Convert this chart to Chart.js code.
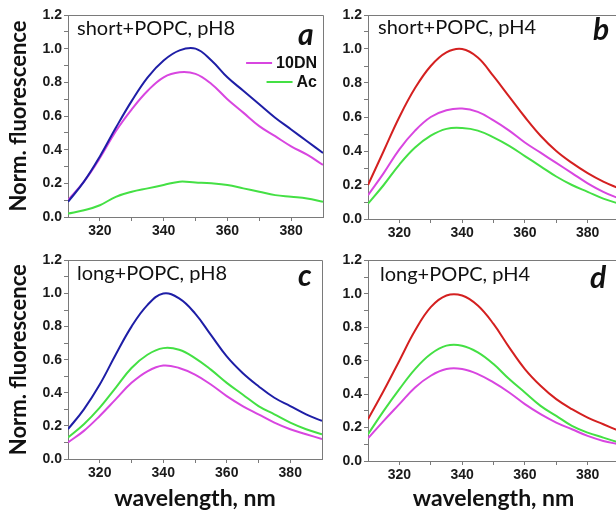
<!DOCTYPE html>
<html>
<head>
<meta charset="utf-8">
<script src="https://cdn.jsdelivr.net/npm/chart.js@4/dist/chart.umd.min.js"></script>
<style>
  html, body { margin: 0; padding: 0; background: #fff; width: 616px; height: 514px; overflow: hidden; }
  canvas { position: absolute; }
</style>
</head>
<body>
<canvas id="panelA" width="335" height="250" style="left:0;top:0"></canvas>
<canvas id="panelB" width="330" height="250" style="left:300px;top:0"></canvas>
<canvas id="panelC" width="335" height="264" style="left:0;top:250px"></canvas>
<canvas id="panelD" width="330" height="264" style="left:300px;top:250px"></canvas>
<script>
// Emission wavelength grid (nm)
const wavelengths = [310, 315, 320, 325, 330, 335, 340, 345, 350, 355, 360, 365, 370, 375, 380, 385, 390];

// a: short peptide + POPC, pH 8
const shortPH8 = [0.09, 0.21, 0.36, 0.53, 0.69, 0.83, 0.93, 0.99, 1.00, 0.93, 0.83, 0.75, 0.67, 0.59, 0.52, 0.45, 0.38];
const short10DN_PH8 = [0.10, 0.21, 0.35, 0.51, 0.64, 0.75, 0.83, 0.86, 0.85, 0.79, 0.70, 0.62, 0.54, 0.48, 0.42, 0.37, 0.31];
const shortAc_PH8 = [0.02, 0.04, 0.07, 0.12, 0.15, 0.17, 0.19, 0.21, 0.205, 0.20, 0.19, 0.17, 0.15, 0.13, 0.12, 0.11, 0.09];

// b: short peptide + POPC, pH 4
const shortPH4 = [0.20, 0.40, 0.60, 0.77, 0.90, 0.98, 1.00, 0.95, 0.84, 0.72, 0.60, 0.49, 0.40, 0.33, 0.27, 0.22, 0.18];
const short10DN_PH4 = [0.14, 0.27, 0.41, 0.52, 0.60, 0.64, 0.65, 0.63, 0.58, 0.52, 0.45, 0.39, 0.33, 0.27, 0.21, 0.16, 0.12];
const shortAc_PH4 = [0.09, 0.20, 0.32, 0.42, 0.49, 0.53, 0.535, 0.52, 0.48, 0.43, 0.37, 0.31, 0.25, 0.20, 0.16, 0.12, 0.09];

// c: long peptide + POPC, pH 8
const longPH8 = [0.18, 0.30, 0.45, 0.63, 0.80, 0.93, 1.00, 0.97, 0.88, 0.75, 0.62, 0.52, 0.44, 0.37, 0.32, 0.27, 0.23];
const long10DN_PH8 = [0.10, 0.17, 0.26, 0.36, 0.46, 0.53, 0.565, 0.55, 0.51, 0.45, 0.38, 0.32, 0.27, 0.22, 0.18, 0.15, 0.12];
const longAc_PH8 = [0.13, 0.21, 0.31, 0.43, 0.55, 0.63, 0.67, 0.66, 0.61, 0.54, 0.46, 0.39, 0.32, 0.27, 0.22, 0.18, 0.15];

// d: long peptide + POPC, pH 4
const longPH4 = [0.25, 0.42, 0.60, 0.78, 0.92, 0.99, 0.99, 0.93, 0.82, 0.68, 0.55, 0.45, 0.37, 0.31, 0.26, 0.22, 0.18];
const long10DN_PH4 = [0.135, 0.24, 0.34, 0.44, 0.51, 0.55, 0.55, 0.52, 0.47, 0.41, 0.34, 0.28, 0.23, 0.19, 0.15, 0.12, 0.10];
const longAc_PH4 = [0.16, 0.30, 0.43, 0.55, 0.64, 0.69, 0.69, 0.65, 0.58, 0.49, 0.41, 0.33, 0.27, 0.21, 0.17, 0.14, 0.11];

// Axis ticks (minor ticks carry an empty label)
const xTickValues = [320, 330, 340, 350, 360, 370, 380];
const yTickValues = [0, 0.1, 0.2, 0.3, 0.4, 0.5, 0.6, 0.7, 0.8, 0.9, 1.0, 1.1, 1.2];

const COLORS = { blue: '#1e1ea6', red: '#d42020', magenta: '#d846e0', green: '#44e044' };
const AXIS_GREY = '#7a7a7a';
const TICK_FONT = { family: "'Liberation Sans', Arial, sans-serif", weight: 'bold', size: 14 };
const Y_TITLE_FONT = { family: "Lato, 'Open Sans', sans-serif", weight: 'bold', size: 22 };
const X_TITLE_FONT = { family: "Lato, 'Open Sans', sans-serif", weight: 'bold', size: 23 };

// Frame, panel heading, panel letter and in-plot legend
const panelDecor = {
  id: 'panelDecor',
  afterDraw(chart, args, o) {
    const { ctx, chartArea: a } = chart;
    ctx.save();
    ctx.strokeStyle = AXIS_GREY;
    ctx.lineWidth = 1;
    ctx.beginPath();
    ctx.moveTo(Math.round(a.left) + 0.5, Math.round(a.top) + 0.5);
    ctx.lineTo(Math.round(a.right) + 0.5, Math.round(a.top) + 0.5);
    ctx.lineTo(Math.round(a.right) + 0.5, Math.round(a.bottom) + 0.5);
    ctx.stroke();

    ctx.fillStyle = '#111';
    ctx.textBaseline = 'alphabetic';
    ctx.textAlign = 'left';
    ctx.font = "20px Lato, 'Open Sans', sans-serif";
    ctx.fillText(o.heading, a.left + o.headingDx, a.top + o.headingDy);

    ctx.font = "italic bold 30px Lato, 'Open Sans', sans-serif";
    ctx.fillText(o.letter, a.left + o.letterDx, a.top + o.letterDy);

    if (o.legend) {
      ctx.font = "bold 16px 'Liberation Sans', Arial, sans-serif";
      ctx.textAlign = 'right';
      ctx.textBaseline = 'middle';
      const items = chart.data.datasets.filter(d => o.legend.includes(d.label));
      items.forEach((d, i) => {
        const y = a.top + 48 + i * 19;
        const xr = a.right - 6;
        const w = ctx.measureText(d.label).width;
        ctx.fillStyle = '#111';
        ctx.fillText(d.label, xr, y + 1);
        ctx.strokeStyle = d.borderColor;
        ctx.lineWidth = 2;
        ctx.beginPath();
        ctx.moveTo(xr - w - 4 - 26, y);
        ctx.lineTo(xr - w - 4, y);
        ctx.stroke();
      });
    }
    ctx.restore();
  }
};

function series(label, values, color) {
  return {
    label, borderColor: color, backgroundColor: color, borderWidth: 2,
    data: wavelengths.map((w, i) => ({ x: w, y: values[i] })),
    pointRadius: 0, tension: 0.4, fill: false
  };
}

function makePanel(id, cfg) {
  return new Chart(document.getElementById(id), {
    type: 'line',
    data: { datasets: cfg.datasets },
    options: {
      responsive: false,
      animation: false,
      events: [],
      layout: { padding: { top: cfg.padTop, right: cfg.padRight, left: 0, bottom: 0 } },
      plugins: {
        legend: { display: false },
        tooltip: { enabled: false },
        panelDecor: cfg.decor
      },
      scales: {
        x: {
          type: 'linear', min: 310, max: 390,
          afterBuildTicks: s => { s.ticks = xTickValues.map(v => ({ value: v })); },
          afterFit: s => { s.height = cfg.xHeight; },
          ticks: {
            autoSkip: false, maxRotation: 0, padding: 2, color: '#1a1a1a', font: TICK_FONT,
            callback: v => (v % 20 === 0 ? String(v) : '')
          },
          grid: { drawOnChartArea: false, drawTicks: true, tickLength: 4, tickColor: AXIS_GREY },
          border: { color: AXIS_GREY, width: 1 },
          title: cfg.xTitle ? { display: true, text: 'wavelength, nm', color: '#111', font: X_TITLE_FONT, padding: { top: 0, bottom: 2 } } : { display: false }
        },
        y: {
          type: 'linear', min: 0, max: 1.2,
          afterBuildTicks: s => { s.ticks = yTickValues.map(v => ({ value: v })); },
          afterFit: s => { s.width = 68; },
          ticks: {
            autoSkip: false, padding: 2, color: '#1a1a1a', font: TICK_FONT,
            callback: v => (Math.round(v * 10) % 2 === 0 ? v.toFixed(1) : '')
          },
          grid: { drawOnChartArea: false, drawTicks: true, tickLength: 4, tickColor: AXIS_GREY },
          border: { color: AXIS_GREY, width: 1 },
          title: cfg.yTitle ? { display: true, text: 'Norm. fluorescence', color: '#111', font: Y_TITLE_FONT, padding: { top: 6, bottom: 0 } } : { display: false }
        }
      }
    },
    plugins: [panelDecor]
  });
}

makePanel('panelA', {
  padTop: 15, padRight: 12, xHeight: 33, yTitle: true, xTitle: false,
  datasets: [
    series('short', shortPH8, COLORS.blue),
    series('10DN', short10DN_PH8, COLORS.magenta),
    series('Ac', shortAc_PH8, COLORS.green)
  ],
  decor: { heading: 'short+POPC, pH8', headingDx: 9, headingDy: 20, letter: 'a', letterDx: 230, letterDy: 30, legend: ['10DN', 'Ac'] }
});

makePanel('panelB', {
  padTop: 15, padRight: 11, xHeight: 31, yTitle: false, xTitle: false,
  datasets: [
    series('short', shortPH4, COLORS.red),
    series('10DN', short10DN_PH4, COLORS.magenta),
    series('Ac', shortAc_PH4, COLORS.green)
  ],
  decor: { heading: 'short+POPC, pH4', headingDx: 10, headingDy: 19, letter: 'b', letterDx: 225, letterDy: 25 }
});

makePanel('panelC', {
  padTop: 7, padRight: 13, xHeight: 55, yTitle: true, xTitle: true,
  datasets: [
    series('long', longPH8, COLORS.blue),
    series('10DN', long10DN_PH8, COLORS.magenta),
    series('Ac', longAc_PH8, COLORS.green)
  ],
  decor: { heading: 'long+POPC, pH8', headingDx: 9, headingDy: 20, letter: 'c', letterDx: 230, letterDy: 26 }
});

makePanel('panelD', {
  padTop: 5, padRight: 11, xHeight: 53, yTitle: false, xTitle: true,
  datasets: [
    series('long', longPH4, COLORS.red),
    series('10DN', long10DN_PH4, COLORS.magenta),
    series('Ac', longAc_PH4, COLORS.green)
  ],
  decor: { heading: 'long+POPC, pH4', headingDx: 12, headingDy: 21, letter: 'd', letterDx: 222, letterDy: 28 }
});
</script>
</body>
</html>
